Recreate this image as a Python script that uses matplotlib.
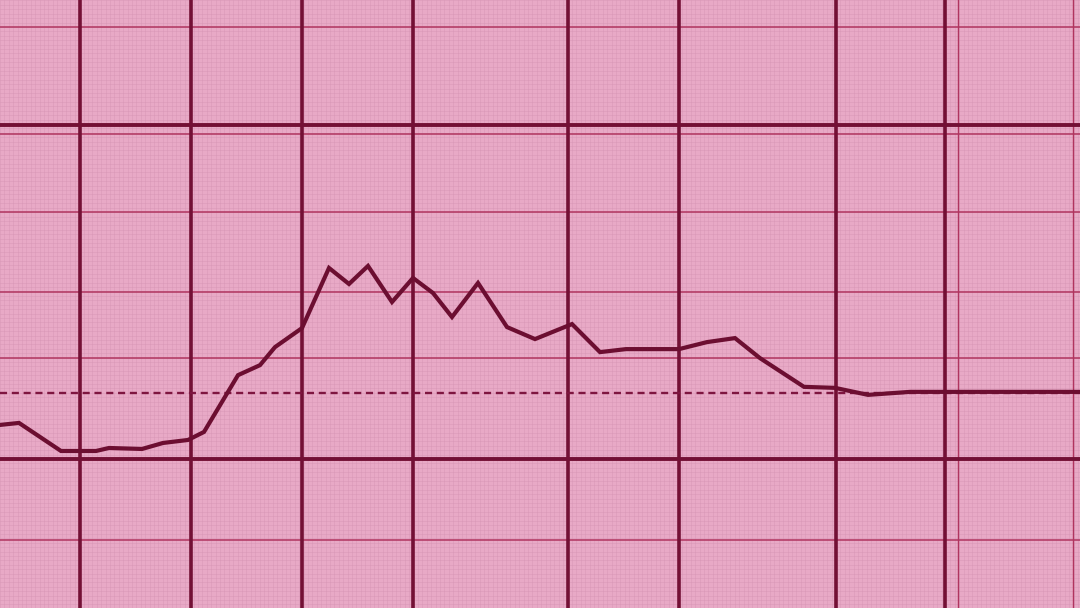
import matplotlib
matplotlib.use("Agg")
import matplotlib.pyplot as plt
from matplotlib.ticker import MultipleLocator

# time (x) and signal level (y)
t = [0.0, 1.9, 6.1, 9.6, 10.9, 14.2, 16.3, 18.8, 20.4, 23.8, 26.0, 27.5, 30.2,
     32.9, 34.9, 36.8, 39.2, 41.3, 43.3, 45.2, 47.8, 50.7, 53.5, 57.2, 60.0,
     62.6, 67.9, 70.7, 73.5, 76.0, 80.4, 83.5, 86.8, 91.0, 108.0]
level = [10.2, 10.8, 2.4, 2.4, 3.3, 3.0, 4.8, 5.7, 8.1, 25.1, 28.1, 33.5, 39.2,
         57.2, 52.4, 57.8, 47.0, 54.2, 49.7, 42.5, 52.7, 39.5, 35.9, 40.4, 32.0,
         32.9, 32.9, 35.0, 36.2, 30.2, 21.6, 21.3, 19.2, 20.1, 20.1]
baseline = 19.8

# grid positions
major_x = [8.0, 19.1, 30.2, 41.3, 56.8, 67.9, 83.6, 94.5]
thin_x = [95.8, 107.3]
major_y = [0.0, 100.0]
thin_y = [-24.3, 30.2, 50.0, 73.9, 97.3, 129.3]

bg = "#e8a9c6"
dark = "#731035"
mid = "#b0345f"

fig = plt.figure(figsize=(10.8, 6.08), dpi=100)
fig.patch.set_facecolor(bg)
ax = fig.add_axes([0, 0, 1, 1])
ax.set_facecolor(bg)
ax.set_xlim(0, 108)
ax.set_ylim((459 - 608) / 3.34, 459 / 3.34)

ax.xaxis.set_minor_locator(MultipleLocator(0.44))
ax.yaxis.set_minor_locator(MultipleLocator(1.32))
ax.set_xticks([])
ax.set_yticks([])
ax.tick_params(which="both", length=0)
ax.grid(True, which="minor", color="#d593b3", lw=0.4, alpha=0.7)

for x in thin_x:
    ax.axvline(x, color=mid, lw=1.0, zorder=2)
for y in thin_y:
    ax.axhline(y, color=mid, lw=1.1, zorder=2)
for x in major_x:
    ax.axvline(x, color=dark, lw=2.6, zorder=3)
for y in major_y:
    ax.axhline(y, color=dark, lw=2.8, zorder=3)

ax.axhline(baseline, color="#7e1540", lw=1.7, dashes=(3.0, 2.0), zorder=4)
ax.plot(t, level, color="#6c0e31", lw=3.0, solid_joinstyle="miter", zorder=5)

for s in ax.spines.values():
    s.set_visible(False)

fig.savefig("out.png", dpi=100, facecolor=bg)
